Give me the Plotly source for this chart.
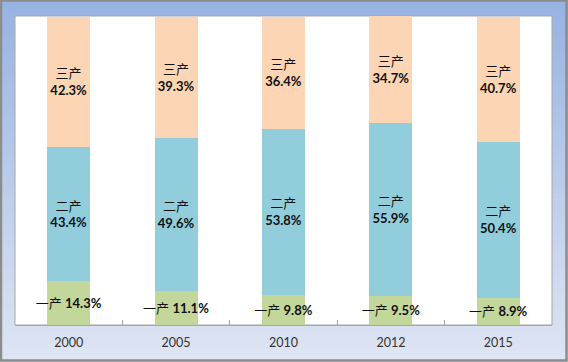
import plotly.graph_objects as go

years = ["2000", "2005", "2010", "2012", "2015"]
primary = [14.3, 11.1, 9.8, 9.5, 8.9]
secondary = [43.4, 49.6, 53.8, 55.9, 50.4]
tertiary = [42.3, 39.3, 36.4, 34.7, 40.7]
names = ["一产", "二产", "三产"]

colors = ["#C4D79B", "#92CDDC", "#FCD5B5"]
W, H = 568, 362
L, R, T, B = 15, 16, 16, 37
ph = H - T - B
pw = W - L - R

fig = go.Figure()
txt_font = dict(family="Lato, 'Noto Sans CJK SC', sans-serif", size=13, color="#111111")
fig.add_bar(x=years, y=primary, name=names[0], marker_color=colors[0],
            text=[f"{names[0]} <b>{v}%</b>" for v in primary])
fig.add_bar(x=years, y=secondary, name=names[1], marker_color=colors[1],
            text=[f"{names[1]}<br><b>{v}%</b>" for v in secondary])
fig.add_bar(x=years, y=tertiary, name=names[2], marker_color=colors[2],
            text=[f"{names[2]}<br><b>{v}%</b>" for v in tertiary])
fig.update_traces(textposition="inside", insidetextanchor="middle", textangle=0,
                  constraintext="none", textfont=txt_font, marker_line_width=0,
                  cliponaxis=False)

def px2x(px):
    return (px - L) / pw

def px2y(py):
    return (H - B - py) / ph

top = (151, 179, 226)
bot = (222, 229, 243)
n = 60
shapes = []
for i in range(n):
    t = i / (n - 1)
    c = tuple(round(top[k] + (bot[k] - top[k]) * t) for k in range(3))
    y0 = H * i / n
    y1 = H * (i + 1) / n + 1
    shapes.append(dict(type="rect", xref="paper", yref="paper", layer="below",
                       x0=px2x(0), x1=px2x(W), y0=px2y(y1), y1=px2y(y0),
                       fillcolor="rgb(%d,%d,%d)" % c, line_width=0))
shapes.append(dict(type="rect", xref="paper", yref="paper", layer="below",
                   x0=px2x(1), x1=px2x(W - 1.5), y0=px2y(H - 1.5), y1=px2y(0.5),
                   fillcolor="rgba(0,0,0,0)", line=dict(color="#8C8C8C", width=2.5)))
shapes.append(dict(type="rect", xref="paper", yref="paper", layer="below",
                   x0=0, x1=1, y0=0, y1=1, fillcolor="white",
                   line=dict(color="#A6A6A6", width=1)))

fig.update_layout(
    template="none",
    width=W, height=H, autosize=False,
    margin=dict(l=L, r=R, t=T, b=B, pad=0),
    barmode="stack", bargap=0.6, showlegend=False,
    paper_bgcolor="#BCCDEB", plot_bgcolor="rgba(0,0,0,0)",
    uniformtext=dict(minsize=12, mode="show"),
    shapes=shapes,
    xaxis=dict(type="category", showline=True, linecolor="#A6A6A6", linewidth=1,
               ticks="inside", tickson="boundaries", ticklen=5, tickcolor="#A6A6A6",
               ticklabelstandoff=6,
               tickfont=dict(family="Lato, sans-serif", size=12.5, color="#333333"),
               showgrid=False, zeroline=False, automargin=False),
    yaxis=dict(range=[0, 100.2], visible=False, showgrid=False, zeroline=False,
               automargin=False),
)
fig.write_html("out.html", config={"displayModeBar": False})
with open("out.html", encoding="utf-8") as f:
    html = f.read()
html = html.replace("<head>", "<head><style>html,body{margin:0;padding:0;overflow:hidden}</style>", 1)
with open("out.html", "w", encoding="utf-8") as f:
    f.write(html)
